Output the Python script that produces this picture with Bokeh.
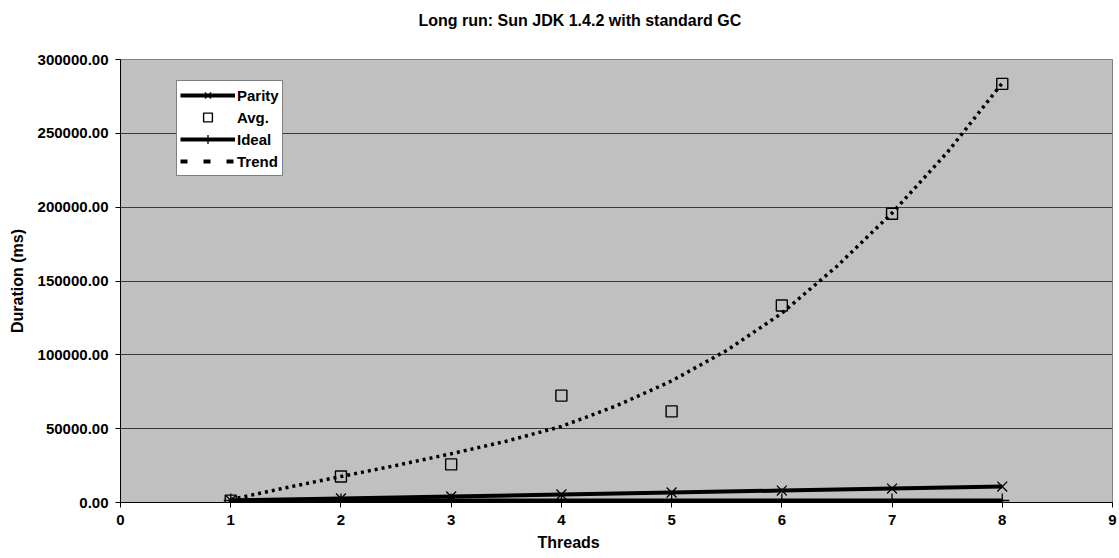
from bokeh.plotting import figure
from bokeh.models import Range1d, FixedTicker, PrintfTickFormatter, Legend, LegendItem, Title
from bokeh.embed import file_html
from bokeh.resources import INLINE

# ---- data ----
threads = [1, 2, 3, 4, 5, 6, 7, 8]
parity = [1350, 2700, 4050, 5400, 6750, 8100, 9450, 10800]
avg = [1300, 17600, 25800, 72400, 61700, 133400, 195500, 283500]
ideal = [1350, 1350, 1350, 1350, 1350, 1350, 1350, 1350]
trend_x = [1, 1.5, 2, 2.5, 3, 3.5, 4, 4.5, 5, 5.5, 6, 6.5, 7, 7.5, 8]
trend_y = [2000, 10000, 17600, 25100, 33000, 41500, 51500, 65500, 82300,
           103000, 128200, 160000, 196000, 237000, 284000]
x_ticks = [0, 1, 2, 3, 4, 5, 6, 7, 8, 9]
y_ticks = [0, 50000, 100000, 150000, 200000, 250000, 300000]
title_text = "Long run: Sun JDK 1.4.2 with standard GC"
x_label_text = "Threads"
y_label_text = "Duration (ms)"

FONT = "Liberation Sans"

main_title = Title(text=title_text, align="left", offset=298, vertical_align="middle",
                   standoff=21, text_font=FONT, text_font_size="16px",
                   text_font_style="bold", text_color="black")

p = figure(width=1119, height=558, output_backend="svg", toolbar_location=None,
           x_range=Range1d(0, 9), y_range=Range1d(0, 300000),
           min_border_left=120, min_border_right=7, min_border_top=59,
           min_border_bottom=56, title=main_title)

# blank spacer between the title and the frame
p.add_layout(Title(text=" ", standoff=0, text_font=FONT, text_font_size="16px",
                   text_color="white"), "above")

p.background_fill_color = "#C0C0C0"
p.border_fill_color = "white"
p.outline_line_color = "#808080"
p.outline_line_width = 1

# grid
p.xgrid.grid_line_color = None
p.ygrid.grid_line_color = "#3a3a3a"
p.ygrid.grid_line_width = 1
p.ygrid.ticker = FixedTicker(ticks=y_ticks)

# axes
p.xaxis.ticker = FixedTicker(ticks=x_ticks)
p.yaxis.ticker = FixedTicker(ticks=y_ticks)
p.yaxis.formatter = PrintfTickFormatter(format="%.2f")
for ax in (p.xaxis[0], p.yaxis[0]):
    ax.axis_line_color = "black"
    ax.axis_line_width = 1
    ax.major_tick_line_color = "black"
    ax.major_tick_in = 0
    ax.major_tick_out = 5
    ax.minor_tick_line_color = None
    ax.major_label_text_font = FONT
    ax.major_label_text_font_size = "15px"
    ax.major_label_text_font_style = "bold"
    ax.major_label_text_color = "black"
    ax.axis_label_text_font = FONT
    ax.axis_label_text_font_size = "16px"
    ax.axis_label_text_font_style = "bold"
    ax.axis_label_text_color = "black"
p.yaxis.axis_label = y_label_text
p.xaxis.major_label_standoff = 7
p.yaxis.major_label_standoff = 7
p.yaxis.axis_label_standoff = 9

# x-axis label as a title below the axis, placed like the original
p.add_layout(Title(text=x_label_text, align="left", offset=417, vertical_align="top",
                   standoff=12, text_font=FONT, text_font_size="16px",
                   text_font_style="bold", text_color="black"), "below")

# series
trend_r = p.line(trend_x, trend_y, line_color="black", line_width=3.5, line_dash="3 4")
par_line = p.line(threads, parity, line_color="black", line_width=4)
ideal_line = p.line(threads, ideal, line_color="black", line_width=4)
par_mark = p.scatter(threads, parity, marker="x", size=14, line_color="black", line_width=1.3)
ideal_mark = p.scatter(threads, ideal, marker="cross", size=14, line_color="black", line_width=1.3)
avg_mark = p.scatter(threads, avg, marker="square", size=11, fill_color=None,
                     line_color="black", line_width=1.4)

# legend-only proxy for the trend line style (no visible data)
nan = float("nan")
trend_leg = p.line([nan], [nan], line_color="black", line_width=4, line_dash="7 16")

legend = Legend(items=[
    LegendItem(label="Parity", renderers=[par_line, par_mark]),
    LegendItem(label="Avg.", renderers=[avg_mark]),
    LegendItem(label="Ideal", renderers=[ideal_line, ideal_mark]),
    LegendItem(label="Trend", renderers=[trend_leg]),
], location=(56, 326))
legend.border_line_color = "black"
legend.border_line_width = 1
legend.background_fill_color = "white"
legend.background_fill_alpha = 1
legend.label_text_font = FONT
legend.label_text_font_size = "15px"
legend.label_text_font_style = "bold"
legend.label_text_color = "black"
legend.glyph_width = 55
legend.glyph_height = 22
legend.label_standoff = 2
legend.spacing = 0
legend.padding = 3
legend.margin = 0
p.add_layout(legend)

open("out.html", "w").write(file_html(p, INLINE))
